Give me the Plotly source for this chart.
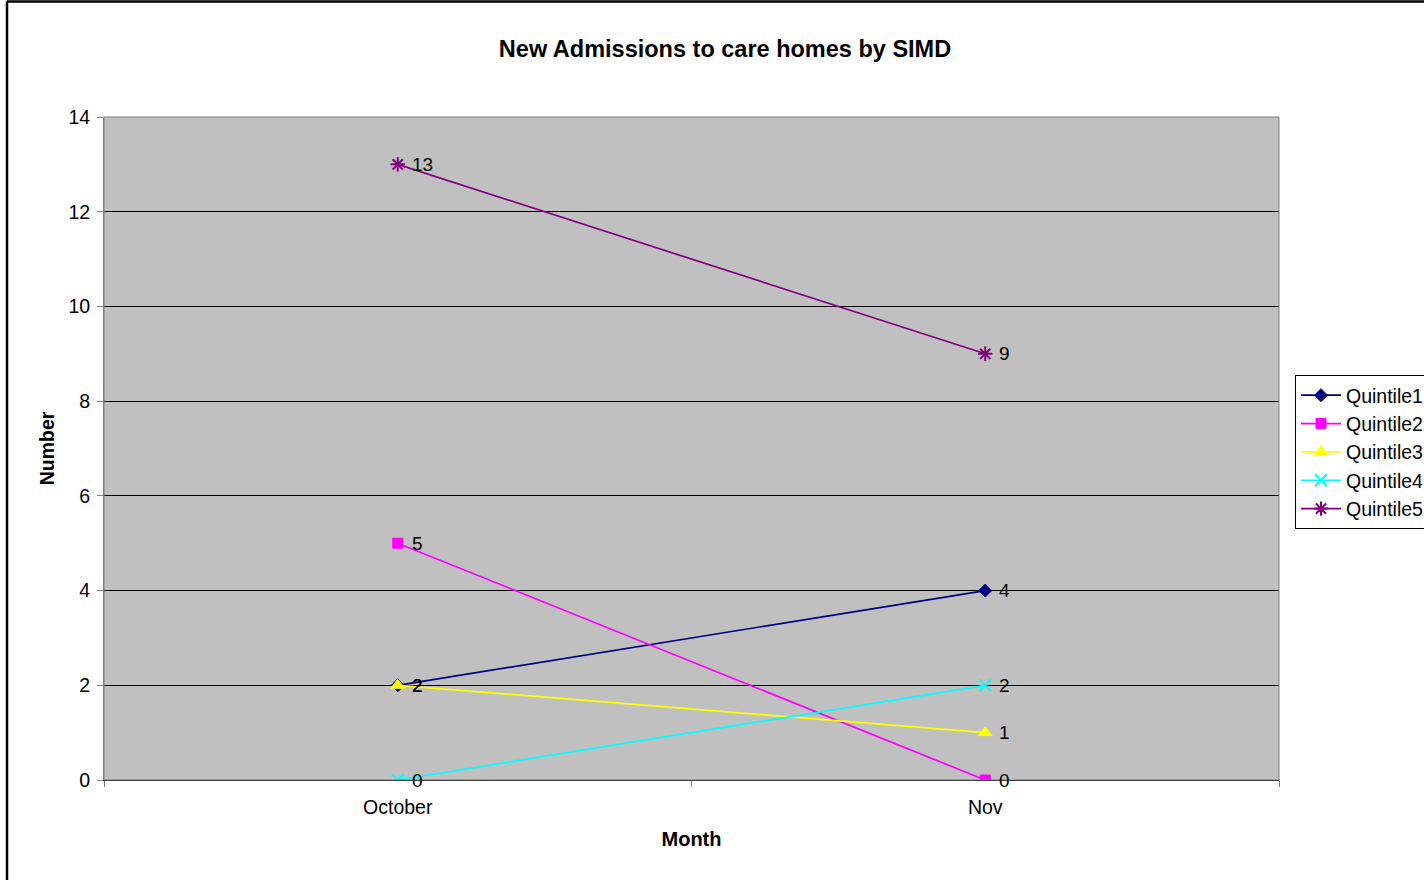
import plotly.graph_objects as go

months = ["October", "Nov"]
series_names = ["Quintile1", "Quintile2", "Quintile3", "Quintile4", "Quintile5"]
q1 = [2, 4]
q2 = [5, 0]
q3 = [2, 1]
q4 = [0, 2]
q5 = [13, 9]
values = [q1, q2, q3, q4, q5]
colors = ["#000080", "#FF00FF", "#FFFF00", "#00FFFF", "#800080"]
symbols = ["diamond", "square", "triangle-up", "x-thin", "asterisk"]
sizes = [10, 10, 12, 12, 12]
mlw = [1, 1, 1, 2, 2]

FONT = "Liberation Sans, Arial"

fig = go.Figure()
for i, (name, vals) in enumerate(zip(series_names, values)):
    fig.add_trace(go.Scatter(
        x=months, y=vals, name=name, legendgroup=name,
        mode="lines+markers",
        line=dict(color=colors[i], width=1.7),
        marker=dict(symbol=symbols[i], size=sizes[i], color=colors[i],
                    line=dict(color=colors[i], width=mlw[i])),
    ))
    for m, v in zip(months, vals):
        fig.add_annotation(x=m, y=v, text=str(v), showarrow=False,
                           xanchor="left", yanchor="middle", xshift=12,
                           font=dict(family=FONT, size=19, color="black"))

L, R, T, B = 104, 1279, 117, 780
W, H = 1424, 880
pw, ph = R - L, B - T

fig.update_layout(
    width=W, height=H,
    margin=dict(l=L, r=W - R, t=T, b=H - B, pad=0, autoexpand=False),
    paper_bgcolor="white", plot_bgcolor="#C0C0C0",
    font=dict(family=FONT, size=19, color="black"),
    title=dict(text="<b>New Admissions to care homes by SIMD</b>",
               x=725 / W, xanchor="center", y=1 - 49 / H, yanchor="middle",
               font=dict(size=23.5)),
    xaxis=dict(type="category", range=[-0.5, 1.5], tickson="boundaries",
               ticks="outside", ticklen=6, tickcolor="#808080", showgrid=False,
               showline=True, linecolor="black", linewidth=1,
               tickfont=dict(size=19.5), ticklabelstandoff=10, automargin=False,
               title=dict(text="<b>Month</b>", font=dict(size=20), standoff=14)),
    yaxis=dict(range=[0, 14], dtick=2, ticks="outside", ticklen=6, tickcolor="#808080",
               showgrid=True, gridcolor="black", gridwidth=1,
               showline=True, linecolor="#808080", linewidth=1, zeroline=False,
               tickfont=dict(size=19.5), ticklabelstandoff=3, automargin=False,
               title=dict(text="<b>Number</b>", font=dict(size=19.5), standoff=8)),
    legend=dict(x=(1295 - L) / pw, xanchor="left", y=(B - 375) / ph, yanchor="top",
                bgcolor="white", bordercolor="black", borderwidth=1,
                font=dict(size=19.5), tracegroupgap=0, itemwidth=40),
    showlegend=True,
)

fig.add_shape(type="rect", xref="paper", yref="paper", x0=0, x1=1, y0=0, y1=1,
              line=dict(color="#808080", width=1), layer="above")
fig.add_shape(type="line", xref="paper", yref="paper",
              x0=(7 - L) / pw, x1=(7 - L) / pw, y0=(B - 1.5) / ph, y1=(B - 900) / ph,
              line=dict(color="black", width=2.5))
fig.add_shape(type="line", xref="paper", yref="paper",
              x0=(7 - L) / pw, x1=(1500 - L) / pw, y0=(B - 1.5) / ph, y1=(B - 1.5) / ph,
              line=dict(color="black", width=2.5))

fig.write_html("out.html")
